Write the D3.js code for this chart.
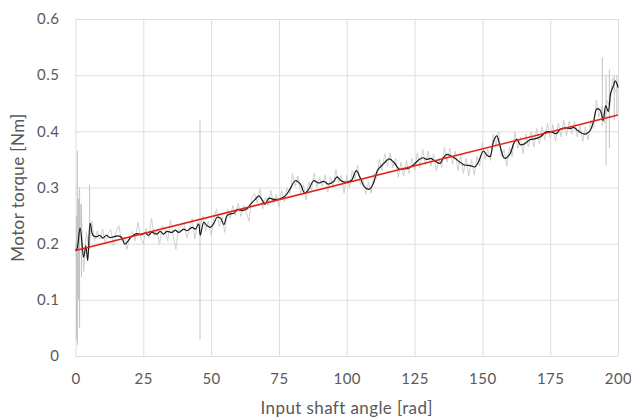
<!DOCTYPE html>
<html>
<head>
<meta charset="utf-8">
<script src="https://cdn.jsdelivr.net/npm/d3@7"></script>
<style>
body { margin: 0; background: #fff; }
text { font-family: Lato, "Open Sans", sans-serif; fill: #595959; }
</style>
</head>
<body>
<svg id="chart" width="631" height="419"></svg>
<script>
// smoothed torque (black)
var smoothAngle = [0, 0.5, 1.7, 3.0, 3.8, 4.5, 5.4, 6.4, 7.7, 8.9, 10.1, 11.4, 12.6, 13.9, 15.7, 17, 18.2, 19.4, 20.7, 22.5,
	24.4, 25.6, 26.9, 28.1, 30, 31.2, 32.4, 33.7, 35.5, 36.8, 38, 39.9, 41.1, 43, 44.2, 45.4, 46, 47.3, 48.5, 49.7,
	51, 52.2, 53.5, 54.7, 55.9, 57.2, 58.4, 59.7, 61.4, 63.3, 64.5, 66.3, 67.6, 68.8, 69.9, 71.3, 73, 75.5, 77.3, 79.2,
	81, 82.9, 84.5, 86, 87.8, 89.6, 91.5, 93.3, 95.2, 96.4, 97.7, 98.9, 100.3, 101.8, 103.5, 104.9, 106.5, 108.3, 109.8, 111.3,
	113.5, 115.7, 117.5, 119.3, 121, 123, 125, 126.5, 128, 129.5, 131, 132.6, 134.4, 135.6, 136.9, 138.1, 139.9, 141.5, 143.4, 145.5,
	147.3, 148.5, 150.4, 151.6, 152.8, 154.1, 155.3, 156.5, 158.2, 160.2, 161.6, 162.7, 164, 165.6, 167.5, 169.6, 171.6, 173.5, 175.4, 177.2,
	178.8, 180.6, 182.4, 183.6, 184.8, 186.2, 187.6, 188.8, 189.7, 191, 192.2, 193.5, 194.5, 195.5, 196.4, 197.3, 198.3, 199, 199.6, 200];
var smoothTorque = [0.188, 0.19, 0.228, 0.176, 0.196, 0.17, 0.236, 0.215, 0.212, 0.215, 0.21, 0.215, 0.211, 0.212, 0.214, 0.211, 0.199, 0.205, 0.213, 0.218,
	0.216, 0.219, 0.215, 0.22, 0.217, 0.222, 0.217, 0.222, 0.22, 0.224, 0.22, 0.226, 0.223, 0.229, 0.226, 0.235, 0.215, 0.238, 0.232, 0.229,
	0.236, 0.247, 0.245, 0.234, 0.25, 0.253, 0.254, 0.261, 0.259, 0.262, 0.27, 0.279, 0.285, 0.278, 0.27, 0.281, 0.279, 0.28, 0.285, 0.298,
	0.312, 0.306, 0.29, 0.297, 0.312, 0.308, 0.311, 0.306, 0.311, 0.319, 0.313, 0.31, 0.31, 0.313, 0.33, 0.318, 0.301, 0.297, 0.307, 0.33,
	0.342, 0.351, 0.344, 0.333, 0.333, 0.335, 0.342, 0.349, 0.353, 0.35, 0.352, 0.347, 0.343, 0.353, 0.359, 0.357, 0.352, 0.346, 0.34, 0.339,
	0.337, 0.345, 0.365, 0.358, 0.355, 0.382, 0.392, 0.374, 0.352, 0.36, 0.379, 0.386, 0.376, 0.378, 0.385, 0.387, 0.391, 0.399, 0.399, 0.396,
	0.404, 0.406, 0.405, 0.407, 0.403, 0.398, 0.395, 0.397, 0.401, 0.418, 0.44, 0.437, 0.419, 0.446, 0.435, 0.468, 0.481, 0.49, 0.485, 0.478];

// raw torque (grey), one sample per rad
var rawAngle = d3.range(0, 201);
var rawTorque = [0.2, 0.12, 0.27, 0.15, 0.22, 0.19, 0.24, 0.205, 0.222, 0.208,
	0.226, 0.2, 0.218, 0.225, 0.196, 0.222, 0.232, 0.205, 0.212, 0.19,
	0.215, 0.222, 0.205, 0.238, 0.212, 0.2, 0.228, 0.21, 0.245, 0.214,
	0.224, 0.198, 0.232, 0.225, 0.205, 0.242, 0.215, 0.19, 0.228, 0.232,
	0.238, 0.21, 0.225, 0.245, 0.208, 0.238, 0.23, 0.25, 0.222, 0.24,
	0.215, 0.245, 0.262, 0.23, 0.248, 0.22, 0.262, 0.245, 0.268, 0.25,
	0.272, 0.248, 0.268, 0.255, 0.24, 0.282, 0.29, 0.272, 0.298, 0.262,
	0.282, 0.268, 0.295, 0.27, 0.288, 0.265, 0.295, 0.275, 0.3, 0.288,
	0.325, 0.302, 0.32, 0.29, 0.305, 0.278, 0.31, 0.295, 0.326, 0.3,
	0.318, 0.302, 0.322, 0.292, 0.318, 0.3, 0.332, 0.308, 0.322, 0.29,
	0.322, 0.3, 0.33, 0.315, 0.34, 0.305, 0.315, 0.288, 0.31, 0.29,
	0.325, 0.315, 0.35, 0.33, 0.36, 0.338, 0.362, 0.335, 0.352, 0.318,
	0.345, 0.32, 0.348, 0.325, 0.352, 0.33, 0.362, 0.335, 0.368, 0.34,
	0.365, 0.338, 0.36, 0.33, 0.352, 0.335, 0.372, 0.345, 0.37, 0.342,
	0.365, 0.33, 0.358, 0.325, 0.352, 0.32, 0.35, 0.322, 0.355, 0.338,
	0.38, 0.35, 0.368, 0.348, 0.395, 0.375, 0.4, 0.355, 0.368, 0.338,
	0.372, 0.355, 0.398, 0.37, 0.39, 0.36, 0.395, 0.372, 0.4, 0.372,
	0.405, 0.378, 0.408, 0.385, 0.415, 0.388, 0.412, 0.382, 0.415, 0.39,
	0.42, 0.392, 0.418, 0.395, 0.418, 0.39, 0.41, 0.382, 0.408, 0.385,
	0.42, 0.405, 0.455, 0.425, 0.445, 0.415, 0.455, 0.445, 0.495, 0.47, 0.475];

// isolated spikes in the raw signal
var spikeAngle = [0.4, 0.7, 1.1, 1.5, 2.2, 5.2, 45.9, 194.2, 195.6, 196.8, 198.6, 199.6];
var spikeLow = [0.03, 0.02, 0.1, 0.05, 0.14, 0.19, 0.03, 0.41, 0.34, 0.37, 0.42, 0.43];
var spikeHigh = [0.25, 0.365, 0.28, 0.3, 0.27, 0.305, 0.42, 0.532, 0.5, 0.51, 0.5, 0.5];

// linear fit (red)
var fitAngle = [0, 200];
var fitTorque = [0.188, 0.429];

var xTicks = [0, 25, 50, 75, 100, 125, 150, 175, 200];
var yTicks = [0, 0.1, 0.2, 0.3, 0.4, 0.5, 0.6];

var svg = d3.select('#chart');
var plotLeft = 75.5, plotRight = 618, plotTop = 19, plotBottom = 356;

var x = d3.scaleLinear().domain([0, 200]).range([plotLeft, plotRight]);
var y = d3.scaleLinear().domain([0, 0.6]).range([plotBottom, plotTop]);

// grid + tick labels
var gx = svg.append('g')
	.attr('transform', 'translate(0,' + plotBottom + ')')
	.call(d3.axisBottom(x).tickValues(xTicks).tickSize(-(plotBottom - plotTop)).tickPadding(17).tickFormat(d3.format('d')));
var gy = svg.append('g')
	.attr('transform', 'translate(' + plotLeft + ',0)')
	.call(d3.axisLeft(y).tickValues(yTicks).tickSize(-(plotRight - plotLeft)).tickPadding(16).tickFormat(function(d) {return d === 0 ? '0' : d3.format('.1f')(d);}));
[gx, gy].forEach(function(g) {
	g.select('.domain').remove();
	g.selectAll('line').attr('stroke', '#dedede').attr('stroke-width', 1);
	g.selectAll('text').style('font-size', '15px').style('letter-spacing', '0.5px').attr('fill', '#5a5a5a');
});

var plot = svg.append('g');

var rawLine = d3.line()
	.x(function(d, i) {return x(rawAngle[i]);})
	.y(function(d) {return y(d);});
plot.append('path')
	.attr('d', rawLine(rawTorque))
	.attr('fill', 'none')
	.attr('stroke', '#cbcbcb')
	.attr('stroke-width', 0.9);

plot.selectAll('.spike')
	.data(spikeAngle)
	.enter()
	.append('line')
	.attr('class', 'spike')
	.attr('x1', function(d) {return x(d);})
	.attr('x2', function(d) {return x(d);})
	.attr('y1', function(d, i) {return y(spikeLow[i]);})
	.attr('y2', function(d, i) {return y(spikeHigh[i]);})
	.attr('stroke', '#c2c2c2')
	.attr('stroke-width', 1);

var smoothLine = d3.line()
	.x(function(d, i) {return x(smoothAngle[i]);})
	.y(function(d) {return y(d);})
	.curve(d3.curveCatmullRom);
plot.append('path')
	.attr('d', smoothLine(smoothTorque))
	.attr('fill', 'none')
	.attr('stroke', '#1a1a1a')
	.attr('stroke-width', 1.2)
	.attr('stroke-linejoin', 'round');

var fitLine = d3.line()
	.x(function(d, i) {return x(fitAngle[i]);})
	.y(function(d) {return y(d);});
plot.append('path')
	.attr('d', fitLine(fitTorque))
	.attr('fill', 'none')
	.attr('stroke', '#e0201c')
	.attr('stroke-width', 1.6);

// axis titles
svg.append('text')
	.attr('x', (plotLeft + plotRight) / 2)
	.attr('y', 414)
	.attr('text-anchor', 'middle')
	.style('font-size', '17px')
	.style('letter-spacing', '0.4px')
	.text('Input shaft angle [rad]');
svg.append('text')
	.attr('transform', 'translate(24,' + (plotTop + plotBottom) / 2 + ') rotate(-90)')
	.attr('text-anchor', 'middle')
	.style('font-size', '17px')
	.style('letter-spacing', '0.4px')
	.text('Motor torque [Nm]');
</script>
</body>
</html>
